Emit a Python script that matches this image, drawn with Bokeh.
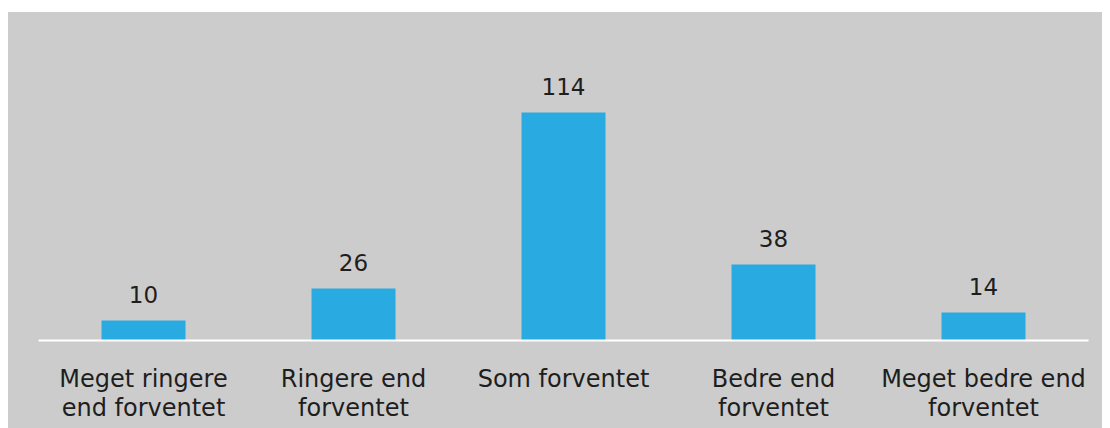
from bokeh.plotting import figure
from bokeh.models import ColumnDataSource, Range1d
from bokeh.embed import file_html
from bokeh.resources import INLINE
from bokeh.core.properties import value

categories = ["Meget ringere\nend forventet", "Ringere end\nforventet", "Som forventet",
              "Bedre end\nforventet", "Meget bedre end\nforventet"]
counts = [10, 26, 114, 38, 14]
labels = [str(c) for c in counts]

BG = "#cccccc"
BAR = "#29abe2"
TXT = "#1e1e1e"
FONT = "DejaVu Sans"

src = ColumnDataSource(dict(cat=categories, val=counts, lab=labels))

p = figure(x_range=categories, y_range=Range1d(0, 150), width=1094, height=416,
           output_backend="svg", toolbar_location=None, margin=(12, 0, 0, 8),
           styles={"background-color": BG})
p.background_fill_color = BG
p.border_fill_color = None
p.outline_line_color = None
p.min_border_left = 30
p.min_border_right = 14
p.min_border_top = 28
p.min_border_bottom = 88
p.xgrid.visible = False
p.ygrid.visible = False
p.yaxis.visible = False

p.vbar(x="cat", top="val", width=0.4, source=src, color=BAR, line_color=None)
p.text(x="cat", y="val", text="lab", source=src, text_align="center",
       text_baseline="alphabetic", y_offset=-26, text_font=value(FONT),
       text_font_size="23px", text_color=TXT)

xa = p.xaxis[0]
xa.axis_line_color = "white"
xa.axis_line_width = 2
xa.major_tick_line_color = None
xa.major_tick_out = 0
xa.major_tick_in = 0
xa.minor_tick_line_color = None
xa.major_label_text_font = FONT
xa.major_label_text_font_size = "24px"
xa.major_label_text_color = TXT
xa.major_label_text_line_height = 1.05
xa.major_label_standoff = 24

open("out.html", "w").write(file_html(p, INLINE))
